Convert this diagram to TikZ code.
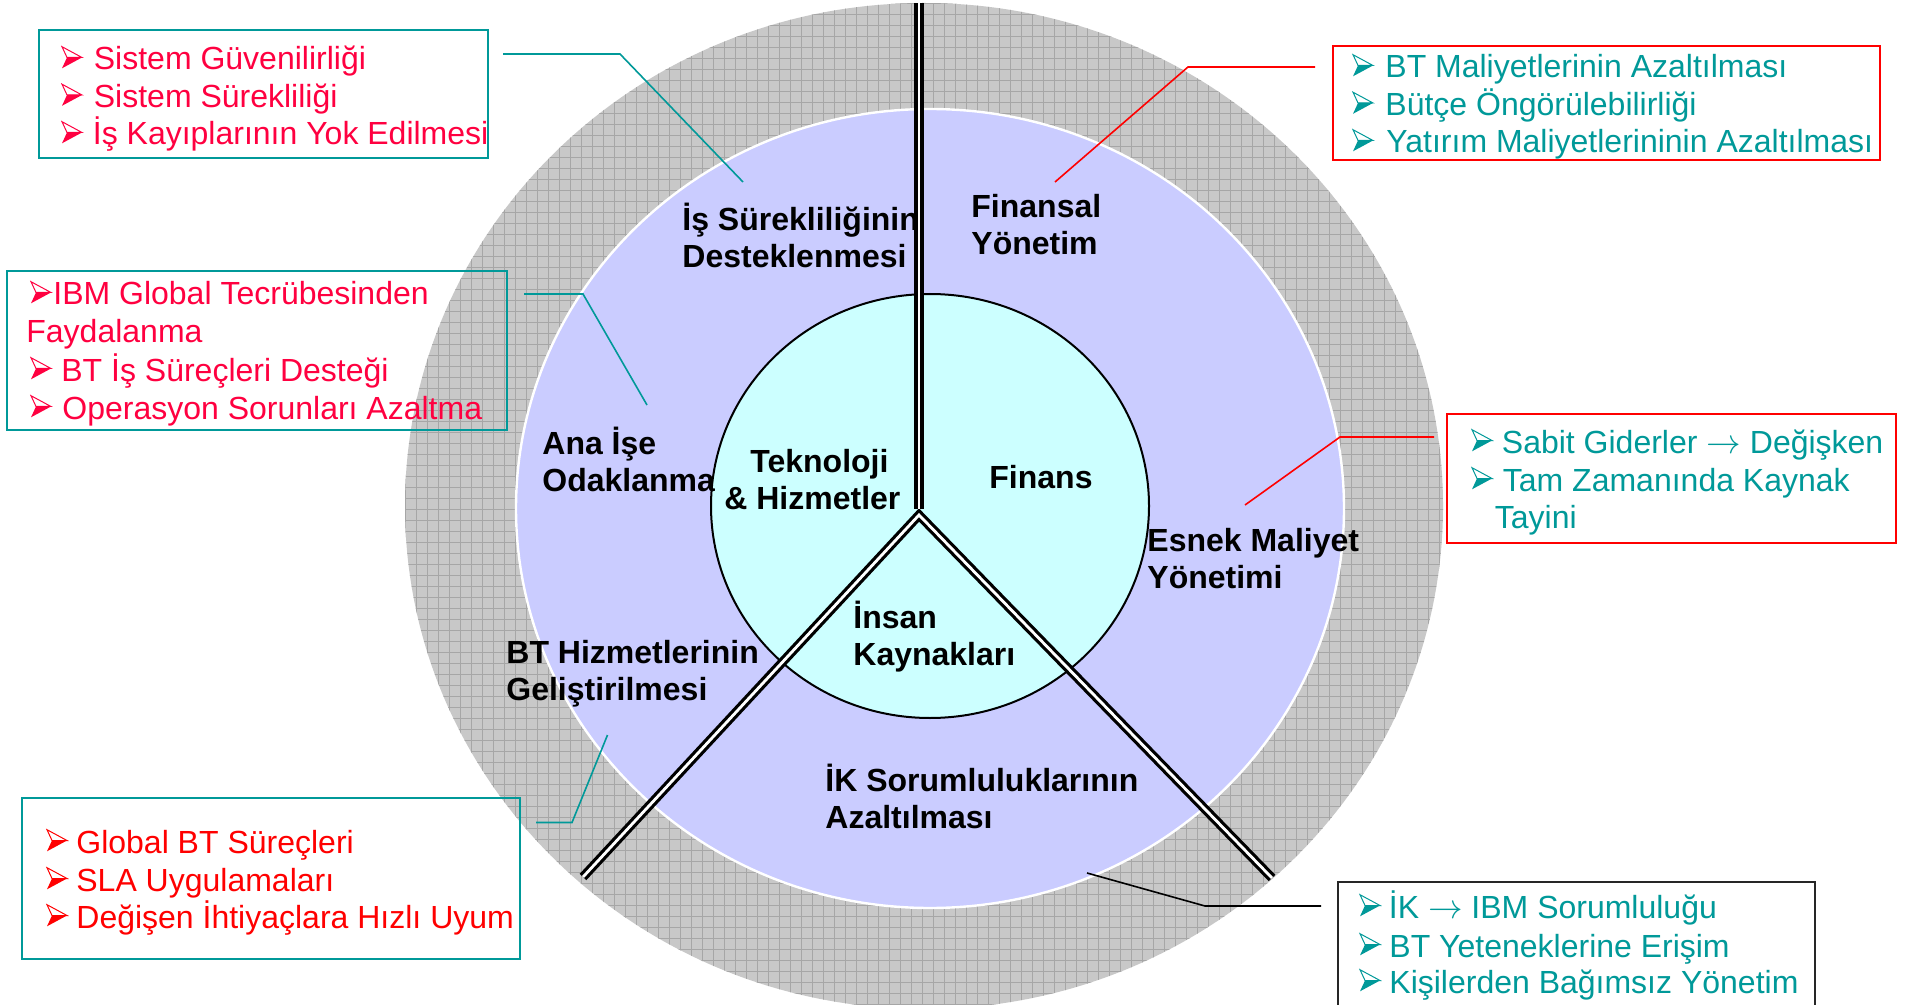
\documentclass[tikz,border=0pt]{standalone}
\usepackage{fontspec}
\setmainfont{Liberation Sans}
\definecolor{pinkred}{HTML}{FF0040}
\definecolor{redc}{HTML}{FF0000}
\definecolor{tealc}{HTML}{009999}
\definecolor{lav}{HTML}{CACCFF}
\definecolor{cyanc}{HTML}{CCFFFF}
\definecolor{ringc}{HTML}{C8C8C8}
\definecolor{gridc}{HTML}{A6A6A6}
\newcommand\twol[2]{\vtop{\hbox{#1}\hbox{#2}}}
\newcommand\rarr{$\rightarrow$}
\tikzset{
  lbl/.style={anchor=base west, inner sep=0pt, font=\fontsize{16}{18.5}\selectfont\bfseries},
  btxt/.style={anchor=base west, inner sep=0pt, font=\fontsize{16}{18.75}\selectfont},
  boxline/.style={line width=1pt},
  conn/.style={line width=0.8pt},
  spoke/.style={draw=black, double=white, double distance=1.4pt, line width=1.6pt, line join=miter},
  bul/.pic={
    \draw[line width=0.5pt, fill=white, line join=miter] (0,-23.3) -- (20,-12.5) -- (5,-12.5) -- cycle;
    \fill (5,-12.5) -- (20,-12.5) -- (0,-1.7) -- cycle;
  }
}
\begin{document}
\begin{tikzpicture}[x=0.5pt,y=-0.5pt]
\useasboundingbox (0,0) rectangle (1905,1005);
\clip (0,0) rectangle (1905,1005);
\fill[white] (0,0) rectangle (1905,1005);
% outer hatched ring
\begin{scope}
  \clip (924,506) ellipse [x radius=519, y radius=503];
  \fill[ringc] (400,0) rectangle (1450,1010);
  \foreach \i in {0,...,96} { \draw[gridc, line width=0.45pt] ({405+11*\i},0) -- ({405+11*\i},1010); }
  \foreach \j in {0,...,92} { \draw[gridc, line width=0.45pt] (400,{3+11*\j}) -- (1450,{3+11*\j}); }
\end{scope}
% middle and inner discs
\filldraw[fill=lav, draw=white, line width=1.2pt] (930,508.5) ellipse [x radius=414, y radius=399.5];
\filldraw[fill=cyanc, draw=black, line width=1pt] (930,506) ellipse [x radius=219, y radius=212];
% spokes
\coordinate (apex) at (919,515);
\coordinate (topend) at (919,3);
\coordinate (vbot) at (919,509);
\coordinate (llend) at (583,877);
\coordinate (lrend) at (1272,878);
\draw[spoke] (llend) -- (apex) -- (lrend);
\draw[spoke] (topend) -- (vbot);
% labels in the circles
\node[lbl] (lab1) at (682,231) {\twol{İş Sürekliliğinin}{Desteklenmesi}};
\node[lbl] (lab2) at (971,218) {\twol{Finansal}{Yönetim}};
\node[lbl] (lab3) at (542,454) {\twol{Ana İşe}{Odaklanma}};
\node[lbl] (lab4) at (724,472) {\twol{\hspace{13pt}Teknoloji}{\& Hizmetler}};
\node[lbl] (lab5) at (989,488) {Finans};
\node[lbl] (lab6) at (1147,551) {\twol{Esnek Maliyet}{Yönetimi}};
\node[lbl] (lab7) at (853,628) {\twol{İnsan}{Kaynakları}};
\node[lbl] (lab8) at (506,663) {\twol{BT Hizmetlerinin}{Geliştirilmesi}};
\node[lbl] (lab9) at (825,791) {\twol{İK Sorumluluklarının}{Azaltılması}};
% boxes
\draw[boxline, tealc] (39,30) rectangle (488,158);
\draw[boxline, redc] (1333,46) rectangle (1880,160);
\draw[boxline, tealc] (7,271) rectangle (507,430);
\draw[boxline, redc] (1447,414) rectangle (1896,543);
\draw[boxline, tealc] (22,798) rectangle (520,959);
\draw[boxline, black!85] (1338,882) rectangle (1815,1020);
% box 1
\foreach \y in {70,107.5,145} { \pic[color=pinkred] at (62,\y) {bul}; }
\node[btxt, text=pinkred] (t1a) at (93.5,70) {Sistem Güvenilirliği};
\node[btxt, text=pinkred] (t1b) at (93.5,107.5) {Sistem Sürekliliği};
\node[btxt, text=pinkred] (t1c) at (92.5,145) {İş Kayıplarının Yok Edilmesi};
% box 2
\foreach \y in {78,115.5,153} { \pic[color=tealc] at (1353,\y) {bul}; }
\node[btxt, text=tealc] (t2a) at (1385,78) {BT Maliyetlerinin Azaltılması};
\node[btxt, text=tealc] (t2b) at (1385,115.5) {Bütçe Öngörülebilirliği};
\node[btxt, text=tealc] (t2c) at (1386,153) {Yatırım Maliyetlerininin Azaltılması};
% box 3
\foreach \y in {305,381,419} { \pic[color=pinkred] at (31,\y) {bul}; }
\node[btxt, text=pinkred] (t3a) at (53,305) {IBM Global Tecrübesinden};
\node[btxt, text=pinkred] (t3b) at (26,343) {Faydalanma};
\node[btxt, text=pinkred] (t3c) at (61,381) {BT İş Süreçleri Desteği};
\node[btxt, text=pinkred] (t3d) at (62,419) {Operasyon Sorunları Azaltma};
% box 4
\foreach \y in {453,491} { \pic[color=tealc] at (1472,\y) {bul}; }
\node[btxt, text=tealc] (t4a) at (1501.5,453) {Sabit Giderler \rarr{} Değişken};
\node[btxt, text=tealc] (t4b) at (1502.5,491) {Tam Zamanında Kaynak};
\node[btxt, text=tealc] (t4c) at (1494.5,528) {Tayini};
% box 5
\foreach \y in {853,891,928} { \pic[color=redc] at (47,\y) {bul}; }
\node[btxt, text=redc] (t5a) at (76,853) {Global BT Süreçleri};
\node[btxt, text=redc] (t5b) at (76,891) {SLA Uygulamaları};
\node[btxt, text=redc] (t5c) at (76,928) {Değişen İhtiyaçlara Hızlı Uyum};
% box 6
\foreach \y in {918,957,993} { \pic[color=tealc] at (1360,\y) {bul}; }
\node[btxt, text=tealc] (t6a) at (1388.5,918) {İK \rarr{} IBM Sorumluluğu};
\node[btxt, text=tealc] (t6b) at (1389,957) {BT Yeteneklerine Erişim};
\node[btxt, text=tealc] (t6c) at (1389,993) {Kişilerden Bağımsız Yönetim};
% connectors
\coordinate (c1s) at (503,54);   \coordinate (c1m) at (620,54);   \coordinate (c1e) at (743,182);
\coordinate (c2s) at (1315,67);  \coordinate (c2m) at (1188,67);  \coordinate (c2e) at (1055,182);
\coordinate (c3s) at (524,294);  \coordinate (c3m) at (583,294);  \coordinate (c3e) at (647,405);
\coordinate (c4s) at (1434,437); \coordinate (c4m) at (1340,437); \coordinate (c4e) at (1245,505);
\coordinate (c5s) at (536,822.5);\coordinate (c5m) at (572,822.5);\coordinate (c5e) at (607.5,735);
\coordinate (c6s) at (1321,906); \coordinate (c6m) at (1205,906); \coordinate (c6e) at (1087,873);
\draw[conn, tealc] (c1s) -- (c1m) -- (c1e);
\draw[conn, redc] (c2s) -- (c2m) -- (c2e);
\draw[conn, tealc] (c3s) -- (c3m) -- (c3e);
\draw[conn, redc] (c4s) -- (c4m) -- (c4e);
\draw[conn, tealc] (c5s) -- (c5m) -- (c5e);
\draw[conn, black] (c6s) -- (c6m) -- (c6e);
\end{tikzpicture}
\end{document}
